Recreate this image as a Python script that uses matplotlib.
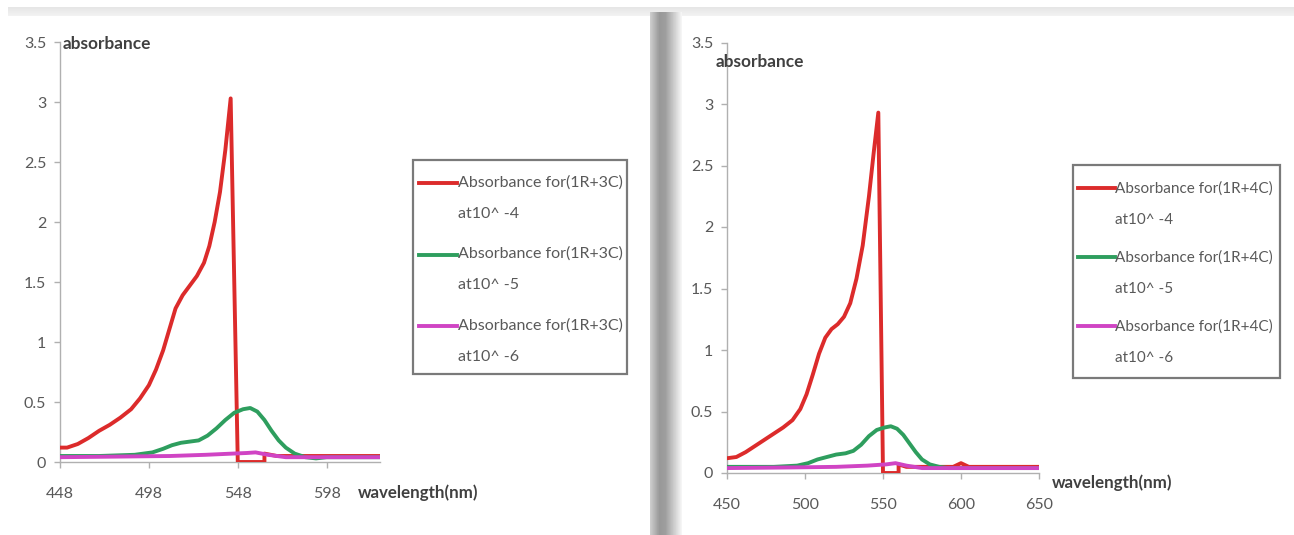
import numpy as np
import matplotlib
matplotlib.use("Agg")
import matplotlib.pyplot as plt
from matplotlib.legend_handler import HandlerLine2D
from matplotlib.transforms import Affine2D
from matplotlib.patches import Rectangle

plt.rcParams['font.family'] = ['Lato', 'DejaVu Sans']

# ---------------- data (left chart: 1R+3C) ----------------
left_red_wl = [448, 452, 458, 464, 470, 476, 482, 488, 493, 498, 502, 506, 510, 513,
               517, 521, 525, 529, 532, 535, 538, 541, 544, 548, 563, 563, 570, 628]
left_red_abs = [0.12, 0.12, 0.15, 0.20, 0.26, 0.31, 0.37, 0.44, 0.53, 0.64, 0.77, 0.93,
                1.13, 1.28, 1.39, 1.47, 1.55, 1.66, 1.80, 2.00, 2.25, 2.60, 3.03, 0.0,
                0.0, 0.07, 0.05, 0.05]
left_green_wl = [448, 470, 490, 500, 506, 511, 516, 521, 526, 531, 536, 541, 546, 551,
                 555, 559, 563, 567, 571, 575, 580, 586, 592, 598, 628]
left_green_abs = [0.05, 0.05, 0.06, 0.08, 0.11, 0.14, 0.16, 0.17, 0.18, 0.22, 0.28, 0.35,
                  0.41, 0.44, 0.45, 0.42, 0.35, 0.26, 0.18, 0.12, 0.07, 0.04, 0.03, 0.04, 0.04]
left_mag_wl = [448, 480, 510, 530, 545, 553, 558, 565, 575, 600, 628]
left_mag_abs = [0.04, 0.045, 0.05, 0.06, 0.07, 0.075, 0.08, 0.06, 0.04, 0.04, 0.04]
left_xticks = [448, 498, 548, 598]
left_labels = ["Absorbance for(1R+3C)\nat10^ -4",
               "Absorbance for(1R+3C)\nat10^ -5",
               "Absorbance for(1R+3C)\nat10^ -6"]

# ---------------- data (right chart: 1R+4C) ----------------
right_red_wl = [450, 456, 462, 468, 474, 480, 486, 492, 497, 501, 505, 509, 513, 517,
                521, 525, 529, 533, 537, 541, 544, 547, 550, 560, 560, 565, 595, 600,
                605, 650]
right_red_abs = [0.12, 0.13, 0.17, 0.22, 0.27, 0.32, 0.37, 0.43, 0.52, 0.64, 0.80, 0.97,
                 1.10, 1.17, 1.21, 1.27, 1.38, 1.58, 1.85, 2.25, 2.60, 2.93, 0.0, 0.0,
                 0.07, 0.05, 0.05, 0.08, 0.05, 0.05]
right_green_wl = [450, 480, 495, 502, 508, 514, 520, 526, 531, 536, 541, 546, 551, 555,
                  559, 563, 567, 571, 575, 580, 586, 592, 650]
right_green_abs = [0.05, 0.05, 0.06, 0.08, 0.11, 0.13, 0.15, 0.16, 0.18, 0.23, 0.30, 0.35,
                   0.37, 0.38, 0.36, 0.31, 0.24, 0.17, 0.11, 0.07, 0.05, 0.04, 0.04]
right_mag_wl = [450, 490, 520, 540, 552, 558, 565, 575, 650]
right_mag_abs = [0.04, 0.045, 0.05, 0.06, 0.07, 0.08, 0.06, 0.04, 0.04]
right_xticks = [450, 500, 550, 600, 650]
right_labels = ["Absorbance for(1R+4C)\nat10^ -4",
                "Absorbance for(1R+4C)\nat10^ -5",
                "Absorbance for(1R+4C)\nat10^ -6"]

yticks = [0, 0.5, 1, 1.5, 2, 2.5, 3, 3.5]
ytick_labels = ["0", "0.5", "1", "1.5", "2", "2.5", "3", "3.5"]

RED = '#dc2b2b'
GREEN = '#2e9e5e'
MAG = '#d044c4'
TXT = '#595959'

W, H = 1294, 535
fig = plt.figure(figsize=(W / 100, H / 100), dpi=100)
fig.patch.set_facecolor('white')


def fx(px):
    return px / W


def fy(py):
    return 1 - py / H


class TopHandler(HandlerLine2D):
    """Place the legend line at the first text line of a two-line label."""

    def __init__(self, shift, **kw):
        super().__init__(**kw)
        self.shift = shift

    def create_artists(self, legend, orig_handle, xdescent, ydescent, width, height,
                       fontsize, trans):
        t = trans + Affine2D().translate(0, self.shift)
        return super().create_artists(legend, orig_handle, xdescent, ydescent, width,
                                      height, fontsize, t)


# decorative top band
band = fig.add_axes([fx(8), fy(16), 1 - fx(8), (16 - 7) / H])
band.imshow(np.linspace(0.90, 0.95, 20).reshape(-1, 1), cmap='gray', vmin=0, vmax=1,
            aspect='auto', extent=[0, 1, 0, 1])
band.axis('off')

# decorative divider gradient
div = fig.add_axes([fx(650), 0, fx(32), fy(12)])
grad = np.concatenate([np.linspace(0.80, 0.60, 10), np.linspace(0.60, 0.62, 6),
                       np.linspace(0.64, 0.96, 16)])
div.imshow(grad.reshape(1, -1), cmap='gray', vmin=0, vmax=1, aspect='auto',
           extent=[0, 1, 0, 1])
div.axis('off')


def make_chart(rect, xlim, xticks, red, green, mag, labels, box, leg_anchor, leg_fs,
               line_sp, lab_sp, shift, ylab_xy, xlab_xy):
    ax = fig.add_axes(rect)
    l1, = ax.plot(*red, color=RED, lw=2.8, solid_joinstyle='round', zorder=3)
    l2, = ax.plot(*green, color=GREEN, lw=2.8, solid_joinstyle='round', zorder=4)
    l3, = ax.plot(*mag, color=MAG, lw=2.8, solid_joinstyle='round', zorder=5)
    ax.set_xlim(*xlim)
    ax.set_ylim(0, 3.5)
    ax.set_xticks(xticks)
    ax.set_xticklabels([str(t) for t in xticks])
    ax.set_yticks(yticks)
    ax.set_yticklabels(ytick_labels)
    for s in ['top', 'right']:
        ax.spines[s].set_visible(False)
    for s in ['left', 'bottom']:
        ax.spines[s].set_color('#b0b0b0')
        ax.spines[s].set_linewidth(1.0)
    ax.tick_params(axis='both', colors='#b0b0b0', labelcolor=TXT, labelsize=11.5,
                   length=4, width=1.0, direction='out')
    ax.tick_params(axis='x', pad=14)
    ax.tick_params(axis='y', pad=6)
    ax.set_facecolor('none')
    h = TopHandler(shift)
    leg = ax.legend([l1, l2, l3], labels, loc='upper left', bbox_to_anchor=leg_anchor,
                    bbox_transform=fig.transFigure, frameon=False,
                    fontsize=leg_fs, handlelength=2.4, handletextpad=0.05,
                    labelspacing=lab_sp, borderpad=0, borderaxespad=0,
                    handler_map={l1: h, l2: h, l3: h})
    for t in leg.get_texts():
        t.set_color(TXT)
        t.set_linespacing(line_sp)
    x0, y0, x1, y1 = box
    fig.patches.append(Rectangle((fx(x0), fy(y1)), fx(x1 - x0), (y1 - y0) / H,
                                 transform=fig.transFigure, fill=False,
                                 edgecolor='#7a7a7a', linewidth=1.6, zorder=1))
    fig.text(*ylab_xy, 'absorbance', fontsize=12.4, fontweight='bold', color='#404040',
             ha='left', va='center')
    fig.text(*xlab_xy, 'wavelength(nm)', fontsize=12.2, fontweight='bold', color='#404040',
             ha='left', va='center')
    return ax


make_chart([fx(60), fy(462), fx(320), 420 / H], (448, 628), left_xticks,
           (left_red_wl, left_red_abs), (left_green_wl, left_green_abs),
           (left_mag_wl, left_mag_abs), left_labels,
           (413, 160, 627, 374), (fx(419), fy(175)), 11.5, 2.58, 1.63, 15,
           (fx(63), fy(44)), (fx(358), fy(493)))

make_chart([fx(727), fy(473), fx(312), (473 - 42.5) / H], (450, 650), right_xticks,
           (right_red_wl, right_red_abs), (right_green_wl, right_green_abs),
           (right_mag_wl, right_mag_abs), right_labels,
           (1073, 165, 1280, 378), (fx(1078), fy(181)), 11, 2.6, 1.52, 16,
           (fx(716), fy(62)), (fx(1052), fy(483)))

fig.savefig('out.png', dpi=100)
